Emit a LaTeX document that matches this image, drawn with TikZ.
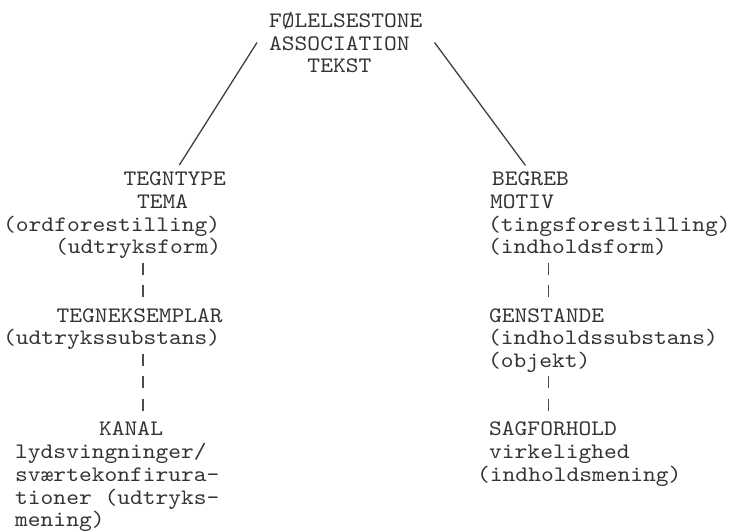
\documentclass[tikz,border=0pt]{standalone}
\usepackage{fontspec}
\setmonofont{lmmono10-regular.otf}[FakeStretch=1.1]
\usepackage{tikz}
\newcommand{\tyk}{\fontsize{22.1}{22.75}\selectfont\ttfamily}

\begin{document}
\begin{tikzpicture}[x=1pt, y=-1pt,
        linje/.style={draw=black!75, line width=1.3pt, shorten >=8.5pt},
        ord/.style={font=\tyk, text=black!80, inner sep=0pt, text height=13pt, text depth=4pt, anchor=base west},
        streger/.style={draw=black!70, line width=1.1pt, dash pattern=on 12pt off 10.75pt, shorten <=4.75pt, shorten >=11.75pt}]
        \useasboundingbox (0,0) rectangle (739,531);
        % top
        \node[font=\tyk, text=black!80, align=left, inner xsep=12pt, inner ysep=0pt, anchor=west] (fole) at (257,42.5)
          {FØLELSESTONE\\ASSOCIATION\\\hphantom{XXX}TEKST};
        % left column
        \node[ord] (tegntype) at (123.5,185.5) {TEGNTYPE};
        \node[ord] (tema) at (137,208.25) {TEMA};
        \node[ord] (ordforest) at (3,231) {(ordforestilling)};
        \node[ord] (udtryksform) at (55,253.75) {(udtryksform)};
        \node[ord] (tegneks) at (56.5,322) {TEGNEKSEMPLAR};
        \node[ord] (udtrsubst) at (3,344.75) {(udtrykssubstans)};
        \node[ord] (kanal) at (99,435.75) {KANAL};
        \node[ord] (lydsv) at (15,458.5) {lydsvingninger/};
        \node[ord] (svaerte) at (15,481.25) {sværtekonfirura-};
        \node[ord] (tioner) at (15,504) {tioner (udtryks-};
        \node[ord] (mening) at (15,526.75) {mening)};
        % right column
        \node[ord] (begreb) at (492,185.5) {BEGREB};
        \node[ord] (motiv) at (490,208.25) {MOTIV};
        \node[ord] (tingsforest) at (488,231) {(tingsforestilling)};
        \node[ord] (indhform) at (488,253.75) {(indholdsform)};
        \node[ord] (genstande) at (489,322) {GENSTANDE};
        \node[ord] (indhsubst) at (488,344.75) {(indholdssubstans)};
        \node[ord] (objekt) at (488,367.5) {(objekt)};
        \node[ord] (sagforhold) at (489,435.75) {SAGFORHOLD};
        \node[ord] (virkelighed) at (489,458.5) {virkelighed};
        \node[ord] (indhmening) at (477,481.25) {(indholdsmening)};
        \coordinate (lbar) at (143,0);
        \coordinate (rbar) at (548.5,0);
        \draw[linje] (fole.west) -- (tegntype.north);
        \draw[linje] (fole.east) -- (begreb.north);
        \draw[streger] (lbar |- udtryksform.south) -- (lbar |- tegneks.north);
        \draw[streger] (lbar |- udtrsubst.south) -- (lbar |- kanal.north);
        \draw[streger] (rbar |- indhform.south) -- (rbar |- genstande.north);
        \draw[streger] (rbar |- objekt.south) -- (rbar |- sagforhold.north);
\end{tikzpicture}
\end{document}
